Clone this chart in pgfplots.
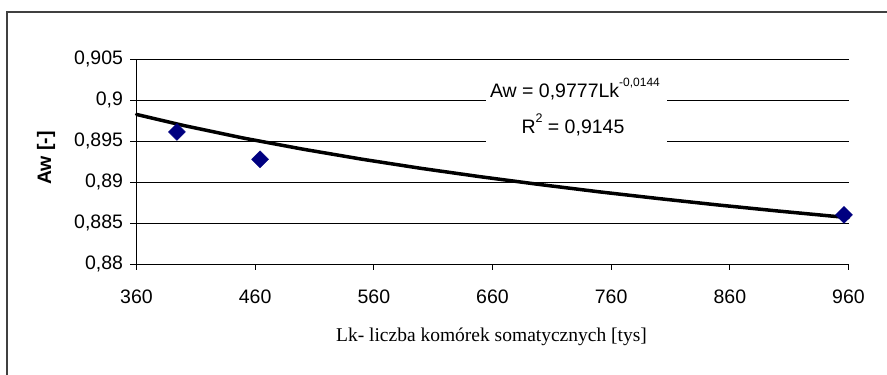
\documentclass[border=0pt]{standalone}
\usepackage{pgfplots}
\pgfplotsset{compat=1.18}
\usepackage{fontspec}
\setmainfont{Liberation Sans}
\newfontfamily\timesf{Liberation Serif}
\definecolor{navyblue}{RGB}{0,0,128}
\definecolor{framegray}{RGB}{64,64,64}
\begin{document}
\begin{tikzpicture}
\useasboundingbox (0pt,0pt) rectangle (887pt,375pt);
\draw[framegray, line width=1.5pt] (7pt,-5pt) -- (7pt,363pt) -- (895pt,363pt);
\begin{axis}[
  at={(136.5pt,111pt)}, anchor=south west,
  scale only axis, width=712pt, height=205pt,
  xmin=360, xmax=960, ymin=0.88, ymax=0.905,
  axis x line*=bottom, axis y line*=left,
  axis line style={black, line width=0.8pt},
  xtick={360,460,560,660,760,860,960},
  ytick={0.88,0.885,0.89,0.895,0.9,0.905},
  ymajorgrids, grid style={black, line width=0.8pt},
  tick align=outside, major tick length=6pt,
  tick style={black, line width=0.8pt},
  /pgf/number format/assume math mode=true,
  yticklabel style={/pgf/number format/fixed, /pgf/number format/precision=3, /pgf/number format/use comma, xshift=-4pt},
  xticklabel style={/pgf/number format/1000 sep={}, yshift=-16pt},
  ticklabel style={font=\fontsize{19.5}{23}\selectfont},
  xlabel={Lk- liczba kom\'orek somatycznych [tys]},
  ylabel={Aw [-]},
  xlabel style={at={(axis description cs:0.4986,-0.379)}, anchor=base, font=\timesf\fontsize{19.5}{23}\selectfont},
  ylabel style={at={(axis description cs:-0.127,0.517)}, anchor=center, font=\bfseries\fontsize{19.5}{23}\selectfont},
  clip=false,
]
\addplot[only marks, mark=square*, mark size=6pt, mark options={rotate=45, fill=navyblue, draw=navyblue}]
  coordinates {(394.1,0.8961) (464.1,0.89277) (956.2,0.88598)};
\addplot[black, line width=3.5pt, line join=round, line cap=round]
  coordinates {(360,0.89824) (400,0.89688) (450,0.89536) (500,0.89401) (550,0.89278) (600,0.89166) (650,0.89064) (700,0.88969) (750,0.88880) (800,0.88798) (850,0.88720) (900,0.88647) (960,0.88565)};
\fill[white] (axis cs:654.5,0.90341) rectangle (axis cs:807,0.8939);
\node[anchor=base, inner sep=0pt, font=\fontsize{19.5}{23}\selectfont] at (axis cs:729.5,0.90028)
  {Aw = 0,9777Lk\raisebox{11pt}{\fontsize{12}{12}\selectfont -0,0144}};
\node[anchor=base, inner sep=0pt, font=\fontsize{19.5}{23}\selectfont] at (axis cs:727.8,0.89597)
  {R\raisebox{11pt}{\fontsize{12.5}{12}\selectfont 2} = 0,9145};
\end{axis}
\end{tikzpicture}
\end{document}
